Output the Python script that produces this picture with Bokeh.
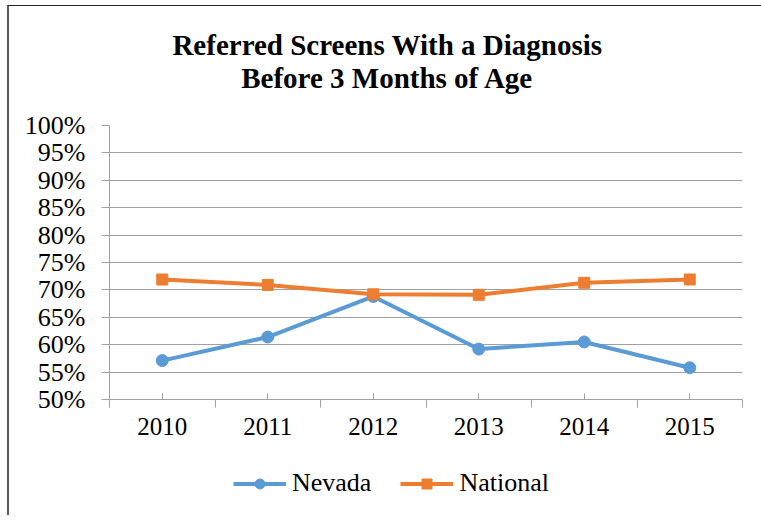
from bokeh.plotting import figure
from bokeh.layouts import column
from bokeh.models import (Range1d, LinearAxis, FixedTicker, NumeralTickFormatter,
                          Legend, LegendItem, Label, ColumnDataSource, Grid)
from bokeh.embed import file_html
from bokeh.resources import INLINE

years = ["2010", "2011", "2012", "2013", "2014", "2015"]
nevada = [0.571, 0.614, 0.688, 0.592, 0.605, 0.558]
national = [0.719, 0.709, 0.692, 0.691, 0.713, 0.719]
y_ticks = [0.50, 0.55, 0.60, 0.65, 0.70, 0.75, 0.80, 0.85, 0.90, 0.95, 1.00]
title_lines = ["Referred Screens With a Diagnosis", "Before 3 Months of Age"]
series_names = ["Nevada", "National"]

FONT = "'Liberation Serif', 'Times New Roman', serif"
BLUE = "#5B9BD5"
ORANGE = "#ED7D31"
GRID = "#a0a0a0"

n = len(years)
centers = [i + 0.5 for i in range(n)]
bounds = [float(i) for i in range(n + 1)]

W = 752
ML, MR = 100, 19


def strip(height):
    f = figure(width=W, height=height, output_backend="svg", toolbar_location=None,
               x_range=Range1d(100, 101), y_range=Range1d(100, 101),
               x_axis_type=None, y_axis_type=None,
               min_border_left=ML, min_border_right=MR, min_border_top=0, min_border_bottom=0)
    f.outline_line_color = None
    f.xgrid.visible = False
    f.ygrid.visible = False
    return f


# ---- title strip
TH = 104
tf = strip(TH)
for t, base in zip(title_lines, [44, 77]):
    tf.add_layout(Label(x=278, y=TH - (base - 6), x_units="screen", y_units="screen",
                        text=t, text_font=FONT, text_font_size="29px", text_font_style="bold",
                        text_align="center", text_baseline="alphabetic", text_color="black"))

# ---- main plot
p = figure(width=W, height=345, output_backend="svg", toolbar_location=None,
           x_range=Range1d(0, n), y_range=Range1d(y_ticks[0], y_ticks[-1]),
           x_axis_type=None, y_axis_type=None,
           min_border_left=ML, min_border_right=MR, min_border_top=15,
           min_border_bottom=56)
p.outline_line_color = None
p.title.text = ""

yax = LinearAxis(ticker=FixedTicker(ticks=y_ticks), formatter=NumeralTickFormatter(format="0%"))
yax.axis_line_color = GRID
yax.major_tick_line_color = GRID
yax.major_tick_out = 8
yax.major_tick_in = 0
yax.minor_tick_line_color = None
yax.major_label_text_font = FONT
yax.major_label_text_font_size = "26px"
yax.major_label_text_color = "black"
yax.major_label_standoff = 16
p.add_layout(yax, "left")

xax = LinearAxis(ticker=FixedTicker(ticks=centers, minor_ticks=bounds))
xax.major_label_overrides = {c: y for c, y in zip(centers, years)}
xax.axis_line_color = GRID
xax.major_tick_line_color = GRID
xax.major_tick_in = 6
xax.major_tick_out = 0
xax.minor_tick_line_color = GRID
xax.minor_tick_in = 0
xax.minor_tick_out = 8
xax.major_label_text_font = FONT
xax.major_label_text_font_size = "25px"
xax.major_label_text_color = "black"
xax.major_label_standoff = 10
p.add_layout(xax, "below")

p.add_layout(Grid(dimension=1, ticker=yax.ticker, grid_line_color=GRID, grid_line_width=1))

src = ColumnDataSource(dict(x=centers, nevada=nevada, national=national))
p.line("x", "nevada", source=src, line_color=BLUE, line_width=4)
p.scatter("x", "nevada", source=src, marker="circle", size=12, fill_color=BLUE, line_color=BLUE)
p.line("x", "national", source=src, line_color=ORANGE, line_width=4)
p.scatter("x", "national", source=src, marker="square", size=11, fill_color=ORANGE, line_color=ORANGE)

# ---- legend strip (same series drawn outside its visible range, only the legend shows)
lf = strip(60)
a1 = lf.line("x", "nevada", source=src, line_color=BLUE, line_width=4)
b1 = lf.scatter("x", "nevada", source=src, marker="circle", size=12, fill_color=BLUE, line_color=BLUE)
a2 = lf.line("x", "national", source=src, line_color=ORANGE, line_width=4)
b2 = lf.scatter("x", "national", source=src, marker="square", size=11, fill_color=ORANGE, line_color=ORANGE)

legend = Legend(items=[LegendItem(label=series_names[0], renderers=[a1, b1]),
                       LegendItem(label=series_names[1], renderers=[a2, b2])],
                orientation="horizontal", location=(124, 17))
legend.label_text_font = FONT
legend.label_text_font_size = "26px"
legend.label_text_color = "black"
legend.glyph_width = 53
legend.glyph_height = 25
legend.label_standoff = 6
legend.spacing = 29
legend.padding = 0
legend.margin = 0
legend.border_line_color = None
legend.background_fill_alpha = 0
lf.add_layout(legend)

layout = column(tf, p, lf, spacing=0,
                styles={"margin-left": "7px", "margin-top": "5px",
                        "border-left": "2px solid #595959", "border-top": "1px solid #262626"})

open("out.html", "w").write(file_html(layout, INLINE))
